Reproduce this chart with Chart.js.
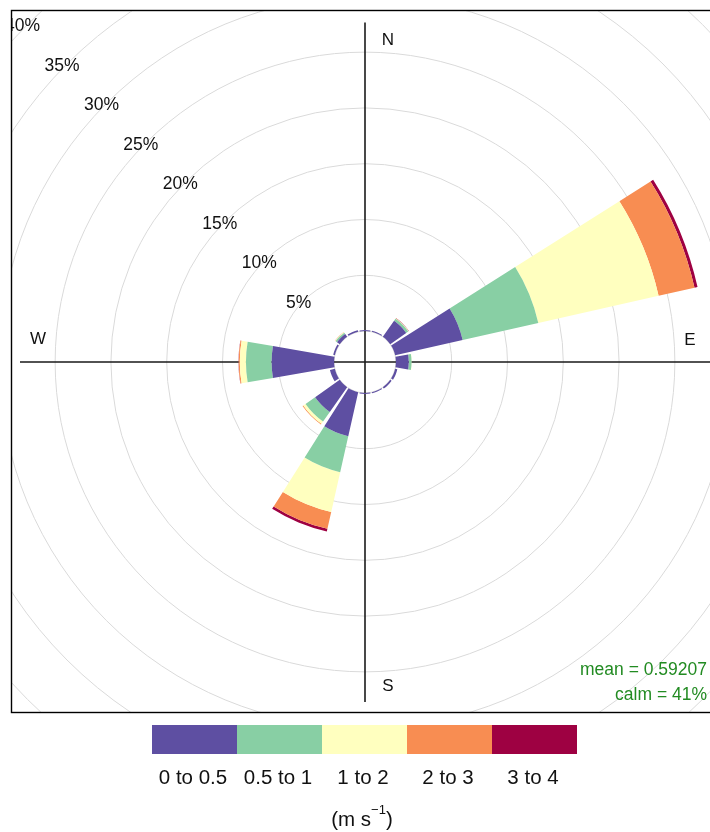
<!DOCTYPE html>
<html>
<head>
<meta charset="utf-8">
<script src="https://cdn.jsdelivr.net/npm/chart.js@4.4.1/dist/chart.umd.min.js"></script>
<style>
html,body{margin:0;padding:0;background:#fff;}
canvas{display:block;}
</style>
</head>
<body>
<canvas id="rose" width="710" height="832"></canvas>
<script>
// ---- data (percent of time, by direction sector and wind-speed bin) ----
const directions = ['N','NNE','NE','ENE','E','ESE','SE','SSE','S','SSW','SW','WSW','W','WNW','NW','NNW'];
const speedBins = ['0 to 0.5','0.5 to 1','1 to 2','2 to 3','3 to 4'];
const binColours = ['#5E4FA2','#88CFA4','#FFFFBF','#F88D52','#9E0142'];
const freq0to05 = [0.10,0.10,1.75,6.20,1.15,0.20,0.15,0.10,0.10,4.05,2.70,0.45,5.60,0.15,0.30,0.15];
const freq05to1 = [0,0,0.22,6.95,0.25,0,0,0,0,3.30,1.05,0,2.30,0,0.15,0];
const freq1to2  = [0,0,0.03,11.05,0.03,0,0,0,0,3.65,0.25,0,0.55,0,0.05,0];
const freq2to3  = [0,0,0.03,3.30,0,0,0,0,0,1.55,0.08,0,0.10,0,0.03,0];
const freq3to4  = [0,0,0.02,0.28,0,0,0,0,0,0.25,0,0,0.02,0,0,0];
const ringTicks = [0,5,10,15,20,25,30,35,40];
const ringLabels = ['', '5%','10%','15%','20%','25%','30%','35%','40%'];
const compassLabels = ['N','E','S','W'];
const meanText = 'mean = 0.59207';
const calmText = 'calm = 41%';
const unitsMain = '(m s';
const unitsSup = '\u22121';
const unitsEnd = ')';

const series = [freq0to05, freq05to1, freq1to2, freq2to3, freq3to4];
const cumulative = series.map((s, k) =>
  s.map((_, i) => series.slice(0, k + 1).reduce((a, arr) => a + arr[i], 0)));

const FONT = '"Liberation Sans", Arial, sans-serif';
const plotBox = {left: 11, top: 10, right: 712, bottom: 712};

// stack bands radially, start them at the calm circle, leave a small gap between sectors
const roseGeometry = {
  id: 'roseGeometry',
  afterDatasetsUpdate(chart) {
    const scale = chart.scales.r;
    const base = scale.getDistanceFromCenterForValue(0);
    const gap = 1.45 * Math.PI / 180;
    chart.data.datasets.forEach((ds, k) => {
      const arcs = chart.getDatasetMeta(k).data;
      const prev = k > 0 ? chart.getDatasetMeta(k - 1).data : null;
      arcs.forEach((arc, i) => {
        const inner = prev ? prev[i].outerRadius : base;
        arc.innerRadius = inner;
        if (arc.outerRadius < inner) arc.outerRadius = inner;
        arc.startAngle += gap;
        arc.endAngle -= gap;
      });
    });
  }
};

const roseDecor = {
  id: 'roseDecor',
  beforeDraw(chart) {
    const ctx = chart.ctx;
    ctx.save();
    ctx.beginPath();
    ctx.rect(plotBox.left + 0.5, plotBox.top + 0.5, plotBox.right - plotBox.left, plotBox.bottom - plotBox.top);
    ctx.clip();
  },
  beforeDatasetsDraw(chart) {
    const ctx = chart.ctx;
    const s = chart.scales.r;
    const cx = s.xCenter, cy = s.yCenter, R = s.drawingArea;
    ctx.save();
    ctx.strokeStyle = '#1a1a1a';
    ctx.lineWidth = 1.6;
    ctx.beginPath();
    ctx.moveTo(cx, cy - R + 0.5);
    ctx.lineTo(cx, cy + R);
    ctx.moveTo(cx - R - 5, cy);
    ctx.lineTo(cx + R + 5, cy);
    ctx.stroke();
    ctx.restore();
  },
  afterDatasetsDraw(chart) {
    const ctx = chart.ctx;
    const s = chart.scales.r;
    const cx = s.xCenter, cy = s.yCenter;
    ctx.save();
    // ring labels along the north-west diagonal
    ctx.font = '17.5px ' + FONT;
    ctx.fillStyle = '#111';
    ctx.textAlign = 'center';
    ctx.textBaseline = 'middle';
    const a = Math.SQRT1_2;
    ringTicks.forEach((v, i) => {
      if (!ringLabels[i]) return;
      const d = s.getDistanceFromCenterForValue(v);
      ctx.fillText(ringLabels[i], cx - d * a - 5, cy - d * a + 2);
    });
    // compass labels
    ctx.font = '17px ' + FONT;
    ctx.fillText(compassLabels[0], cx + 23, cy - 322);
    ctx.fillText(compassLabels[1], cx + 325, cy - 22);
    ctx.fillText(compassLabels[2], cx + 23, cy + 324);
    ctx.fillText(compassLabels[3], cx - 327, cy - 23);
    // statistics
    ctx.fillStyle = '#228B22';
    ctx.font = '17.5px ' + FONT;
    ctx.textAlign = 'right';
    ctx.fillText(meanText, 707, 670);
    ctx.fillText(calmText, 707, 695);
    ctx.restore();
  },
  afterDraw(chart) {
    const ctx = chart.ctx;
    ctx.restore();
    ctx.save();
    // panel border
    ctx.strokeStyle = '#000';
    ctx.lineWidth = 1.4;
    ctx.strokeRect(plotBox.left + 0.5, plotBox.top + 0.5, plotBox.right - plotBox.left, plotBox.bottom - plotBox.top);
    // colour key
    const keyLeft = 152, keyW = 85, keyTop = 725, keyH = 29;
    chart.data.datasets.forEach((ds, k) => {
      ctx.fillStyle = ds.backgroundColor;
      ctx.fillRect(keyLeft + k * keyW, keyTop, keyW, keyH);
    });
    ctx.fillStyle = '#111';
    ctx.font = '20.5px ' + FONT;
    ctx.textAlign = 'center';
    ctx.textBaseline = 'middle';
    chart.data.datasets.forEach((ds, k) => {
      ctx.fillText(ds.label, keyLeft + k * keyW + keyW / 2 - 1.5, 778);
    });
    // units with superscript
    const mainFont = '20.5px ' + FONT, supFont = '13px ' + FONT;
    ctx.font = mainFont;
    const w1 = ctx.measureText(unitsMain).width;
    const w3 = ctx.measureText(unitsEnd).width;
    ctx.font = supFont;
    const w2 = ctx.measureText(unitsSup).width;
    let x = 362 - (w1 + w2 + w3) / 2;
    ctx.textAlign = 'left';
    ctx.font = mainFont;
    ctx.fillText(unitsMain, x, 820);
    x += w1;
    ctx.font = supFont;
    ctx.fillText(unitsSup, x, 810);
    x += w2;
    ctx.font = mainFont;
    ctx.fillText(unitsEnd, x, 820);
    ctx.restore();
  }
};

new Chart(document.getElementById('rose'), {
  type: 'polarArea',
  data: {
    labels: directions,
    datasets: cumulative.map((vals, k) => ({
      label: speedBins[k],
      data: vals,
      backgroundColor: binColours[k],
      borderWidth: 0,
      clip: false
    }))
  },
  options: {
    responsive: false,
    animation: false,
    events: [],
    layout: {padding: {left: 25, right: 5, top: 22, bottom: 130}},
    plugins: {legend: {display: false}, tooltip: {enabled: false}},
    scales: {
      r: {
        min: -2.77,
        max: 27.7,
        startAngle: -11.25,
        ticks: {display: false},
        angleLines: {display: false},
        pointLabels: {display: false},
        grid: {color: '#dadada', lineWidth: 1, circular: true},
        afterBuildTicks: (scale) => { scale.ticks = ringTicks.map(v => ({value: v})); }
      }
    }
  },
  plugins: [roseGeometry, roseDecor]
});
</script>
</body>
</html>
